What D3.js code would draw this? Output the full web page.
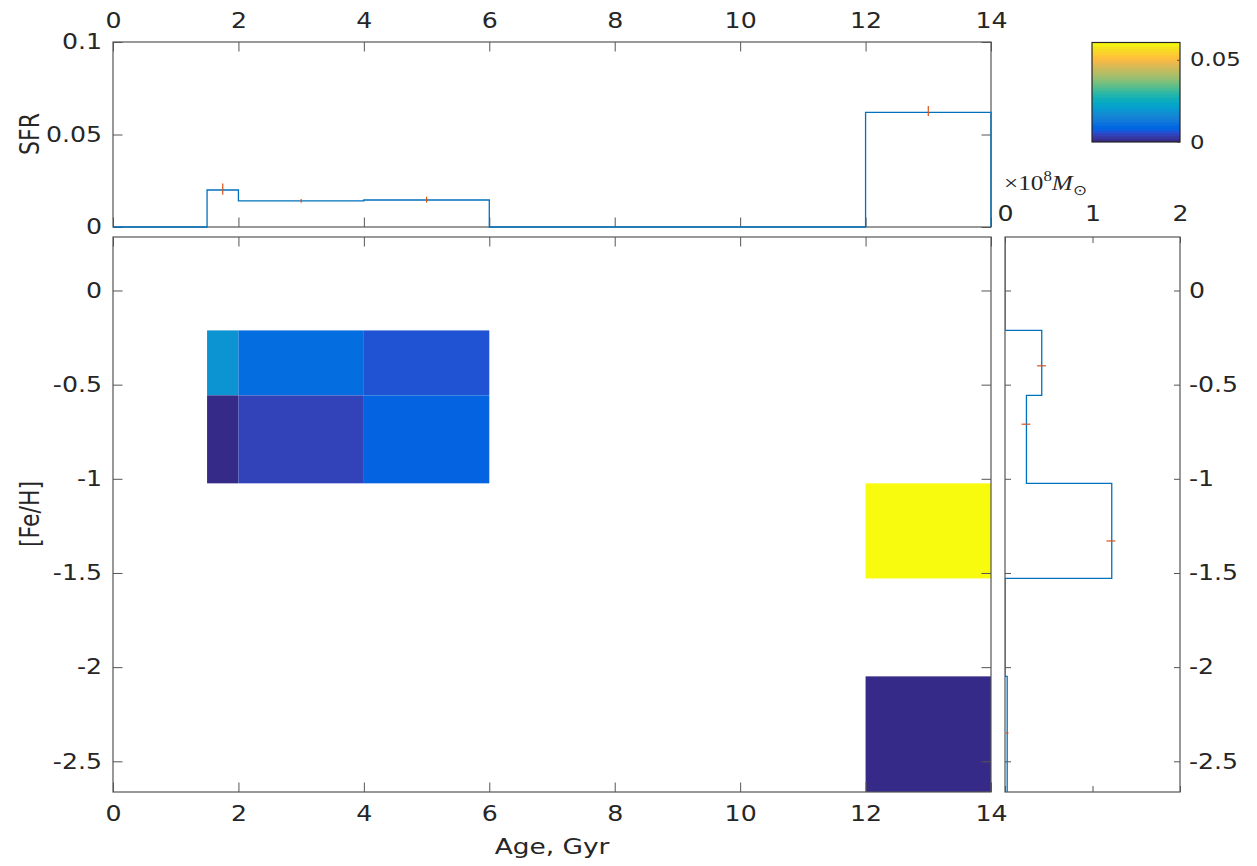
<!DOCTYPE html>
<html><head><meta charset="utf-8">
<script src="https://cdn.jsdelivr.net/npm/d3@7"></script>
<style>body{margin:0;background:#fff} svg{display:block}</style>
</head><body><svg id="c" width="1257" height="866"></svg>
<script>
// ---------------- data ----------------
const ageTicks = [0, 2, 4, 6, 8, 10, 12, 14];
const sfrTicks = [0, 0.05, 0.1];
const sfrTickLabels = ["0", "0.05", "0.1"];
const fehTicks = [0, -0.5, -1, -1.5, -2, -2.5];
const fehTickLabels = ["0", "-0.5", "-1", "-1.5", "-2", "-2.5"];
const massTicks = [0, 1, 2];
const cbarTicks = [0, 0.05];
const cbarTickLabels = ["0", "0.05"];

const sfrEdges = [0, 1.5, 2, 4, 6, 12, 14];
const sfrValues = [0, 0.0200, 0.0141, 0.0146, 0, 0.0620];
const sfrErrAge = [1.75, 3, 5, 13];
const sfrErrVal = [0.0205, 0.0141, 0.0148, 0.0627];
const sfrErr = [0.0030, 0.0010, 0.0016, 0.0027];

const fehEdges = [0.284, -0.212, -0.557, -1.024, -1.529, -2.049, -2.663];
const massValues = [0, 0.42, 0.245, 1.22, 0, 0.025];
const massErrFeh = [-0.40, -0.71, -1.33, -2.35];
const massErrVal = [0.417, 0.239, 1.21, 0.025];
const massErr = [0.05, 0.05, 0.05, 0.015];

const cellAgeLo = [1.5, 2, 4, 1.5, 2, 4, 12, 12];
const cellAgeHi = [2, 4, 6, 2, 4, 6, 14, 14];
const cellFehHi = [-0.212, -0.212, -0.212, -0.557, -0.557, -0.557, -1.024, -2.049];
const cellFehLo = [-0.557, -0.557, -0.557, -1.024, -1.024, -1.024, -1.529, -2.663];
const cellValue = [0.0183, 0.0096, 0.0058, 0.0003, 0.0038, 0.0077, 0.0605, 0.0001];
const cMax = 0.0605;

const parula = [[0.2081,0.1663,0.5292],[0.2116,0.1898,0.5777],[0.2123,0.2138,0.6270],[0.2081,0.2386,0.6771],[0.1959,0.2645,0.7279],[0.1707,0.2919,0.7792],[0.1253,0.3242,0.8303],[0.0591,0.3598,0.8683],[0.0117,0.3875,0.8820],[0.0060,0.4086,0.8828],[0.0165,0.4266,0.8786],[0.0329,0.4430,0.8720],[0.0498,0.4586,0.8641],[0.0629,0.4737,0.8554],[0.0723,0.4887,0.8467],[0.0779,0.5040,0.8384],[0.0793,0.5200,0.8312],[0.0749,0.5375,0.8263],[0.0641,0.5570,0.8240],[0.0488,0.5772,0.8228],[0.0343,0.5966,0.8199],[0.0265,0.6137,0.8135],[0.0239,0.6287,0.8038],[0.0231,0.6418,0.7913],[0.0228,0.6535,0.7768],[0.0267,0.6642,0.7607],[0.0384,0.6743,0.7436],[0.0590,0.6838,0.7254],[0.0843,0.6928,0.7062],[0.1133,0.7015,0.6859],[0.1453,0.7098,0.6646],[0.1801,0.7177,0.6424],[0.2178,0.7250,0.6193],[0.2586,0.7317,0.5954],[0.3022,0.7376,0.5712],[0.3482,0.7424,0.5473],[0.3953,0.7459,0.5244],[0.4420,0.7481,0.5033],[0.4871,0.7491,0.4840],[0.5300,0.7491,0.4661],[0.5709,0.7485,0.4494],[0.6099,0.7473,0.4337],[0.6473,0.7456,0.4188],[0.6834,0.7435,0.4044],[0.7184,0.7411,0.3905],[0.7525,0.7384,0.3768],[0.7858,0.7356,0.3633],[0.8185,0.7327,0.3498],[0.8507,0.7299,0.3360],[0.8824,0.7274,0.3217],[0.9139,0.7258,0.3063],[0.9450,0.7261,0.2886],[0.9739,0.7314,0.2666],[0.9938,0.7455,0.2403],[0.9990,0.7653,0.2164],[0.9955,0.7861,0.1967],[0.9880,0.8066,0.1794],[0.9789,0.8271,0.1633],[0.9697,0.8481,0.1475],[0.9626,0.8705,0.1309],[0.9589,0.8949,0.1132],[0.9598,0.9218,0.0948],[0.9661,0.9514,0.0755],[0.9763,0.9831,0.0538]];

// ---------------- setup ----------------
const SX = 1.2;               // horizontal text stretch seen in reference
const FONT = "DejaVu Sans";
const TXT = "#262626";
const AX = "#555555";
const BLUE = "#0072BD", RED = "#D95319";
const svg = d3.select("#c");
const pcol = p => d3.rgb(p[0]*255, p[1]*255, p[2]*255).formatHex();
const colorOf = v => {
  let i = Math.floor(v / cMax * parula.length);
  i = Math.max(0, Math.min(parula.length - 1, i));
  return pcol(parula[i]);
};

const xAge = d3.scaleLinear([0, 14], [113, 991]);
const ySFR = d3.scaleLinear([0, 0.1], [227, 42]);
const yFeH = d3.scaleLinear([-2.663, 0.284], [792, 237]);
const xMass = d3.scaleLinear([0, 2], [1005, 1180]);
const yC = d3.scaleLinear([0, cMax], [142, 42.5]);

function stretch(sel) {
  sel.attr("transform", function () {
    const x = +this.getAttribute("x") || 0;
    return `translate(${x},0) scale(${SX},1) translate(${-x},0)`;
  });
}
function styleAxis(g, fs) {
  g.select(".domain").remove();
  g.selectAll(".tick line").attr("stroke", AX).attr("stroke-width", 1);
  g.selectAll(".tick text").attr("fill", TXT).attr("font-family", FONT).attr("font-size", fs).call(stretch);
}

// defs & clips
const defs = svg.append("defs");
defs.append("clipPath").attr("id", "clipMain").append("rect").attr("x", 113).attr("y", 237).attr("width", 878).attr("height", 555);
defs.append("clipPath").attr("id", "clipRight").append("rect").attr("x", 1005).attr("y", 237).attr("width", 175).attr("height", 555);

// ---------------- main panel (heatmap) ----------------
const cells = d3.range(cellValue.length);
svg.append("g").attr("clip-path", "url(#clipMain)").selectAll("rect").data(cells).join("rect")
  .attr("x", i => xAge(cellAgeLo[i]))
  .attr("y", i => yFeH(cellFehHi[i]))
  .attr("width", i => xAge(cellAgeHi[i]) - xAge(cellAgeLo[i]))
  .attr("height", i => yFeH(cellFehLo[i]) - yFeH(cellFehHi[i]))
  .attr("fill", i => colorOf(cellValue[i]));

const TS = 21;
// main axes
svg.append("g").attr("transform", "translate(0,792)")
  .call(d3.axisBottom(xAge).tickValues(ageTicks).tickFormat(d3.format("d")).tickSizeInner(-9.5).tickSizeOuter(0).tickPadding(14))
  .call(g => styleAxis(g, TS));
svg.append("g").attr("transform", "translate(0,237)")
  .call(d3.axisTop(xAge).tickValues(ageTicks).tickFormat("").tickSizeInner(-9.5).tickSizeOuter(0))
  .call(g => styleAxis(g, TS));
svg.append("g").attr("transform", "translate(113,0)")
  .call(d3.axisLeft(yFeH).tickValues(fehTicks).tickFormat((d, i) => fehTickLabels[i]).tickSizeInner(-9.5).tickSizeOuter(0).tickPadding(11))
  .call(g => styleAxis(g, TS));
svg.append("g").attr("transform", "translate(991,0)")
  .call(d3.axisRight(yFeH).tickValues(fehTicks).tickFormat("").tickSizeInner(-9.5).tickSizeOuter(0))
  .call(g => styleAxis(g, TS));
svg.append("rect").attr("x", 113).attr("y", 237).attr("width", 878).attr("height", 555)
  .attr("fill", "none").attr("stroke", AX).attr("stroke-width", 1.2);

// ---------------- top panel (SFR) ----------------
const sfrPts = [];
sfrValues.forEach((v, i) => { sfrPts.push([sfrEdges[i], v]); sfrPts.push([sfrEdges[i + 1], v]); });
sfrPts.push([sfrEdges[sfrEdges.length - 1], 0]);
svg.append("g").attr("transform", "translate(0,42)")
  .call(d3.axisTop(xAge).tickValues(ageTicks).tickFormat(d3.format("d")).tickSizeInner(-9.5).tickSizeOuter(0).tickPadding(14))
  .call(g => styleAxis(g, TS));
svg.append("g").attr("transform", "translate(0,227)")
  .call(d3.axisBottom(xAge).tickValues(ageTicks).tickFormat("").tickSizeInner(-9.5).tickSizeOuter(0))
  .call(g => styleAxis(g, TS));
svg.append("g").attr("transform", "translate(113,0)")
  .call(d3.axisLeft(ySFR).tickValues(sfrTicks).tickFormat((d, i) => sfrTickLabels[i]).tickSizeInner(-9.5).tickSizeOuter(0).tickPadding(11))
  .call(g => styleAxis(g, TS));
svg.append("g").attr("transform", "translate(991,0)")
  .call(d3.axisRight(ySFR).tickValues(sfrTicks).tickFormat("").tickSizeInner(-9.5).tickSizeOuter(0))
  .call(g => styleAxis(g, TS));
svg.append("rect").attr("x", 113).attr("y", 42).attr("width", 878).attr("height", 185)
  .attr("fill", "none").attr("stroke", AX).attr("stroke-width", 1.2);
svg.append("path").datum(sfrPts)
  .attr("d", d3.line().x(d => xAge(d[0])).y(d => ySFR(d[1])))
  .attr("fill", "none").attr("stroke", BLUE).attr("stroke-width", 1.3);
svg.append("g").selectAll("line").data(sfrErrAge).join("line")
  .attr("x1", (d) => xAge(d)).attr("x2", d => xAge(d))
  .attr("y1", (d, i) => ySFR(sfrErrVal[i] - sfrErr[i]))
  .attr("y2", (d, i) => ySFR(sfrErrVal[i] + sfrErr[i]))
  .attr("stroke", RED).attr("stroke-width", 1.2);

// ---------------- right panel (mass vs [Fe/H]) ----------------
svg.append("g").attr("transform", "translate(0,237)")
  .call(d3.axisTop(xMass).tickValues(massTicks).tickFormat(d3.format("d")).tickSizeInner(-6).tickSizeOuter(0).tickPadding(16))
  .call(g => styleAxis(g, TS));
svg.append("g").attr("transform", "translate(0,792)")
  .call(d3.axisBottom(xMass).tickValues(massTicks).tickFormat("").tickSizeInner(-6).tickSizeOuter(0))
  .call(g => styleAxis(g, TS));
svg.append("g").attr("transform", "translate(1180,0)")
  .call(d3.axisRight(yFeH).tickValues(fehTicks).tickFormat((d, i) => fehTickLabels[i]).tickSizeInner(-6).tickSizeOuter(0).tickPadding(9))
  .call(g => styleAxis(g, TS));
svg.append("g").attr("transform", "translate(1005,0)")
  .call(d3.axisLeft(yFeH).tickValues(fehTicks).tickFormat("").tickSizeInner(-6).tickSizeOuter(0))
  .call(g => styleAxis(g, TS));
svg.append("rect").attr("x", 1005).attr("y", 237).attr("width", 175).attr("height", 555)
  .attr("fill", "none").attr("stroke", AX).attr("stroke-width", 1.2);
const massPts = [];
massValues.forEach((v, i) => { massPts.push([v, fehEdges[i]]); massPts.push([v, fehEdges[i + 1]]); });
svg.append("path").datum(massPts).attr("clip-path", "url(#clipRight)")
  .attr("d", d3.line().x(d => xMass(d[0])).y(d => yFeH(d[1])))
  .attr("fill", "none").attr("stroke", BLUE).attr("stroke-width", 1.3);
svg.append("g").selectAll("line").data(massErrFeh).join("line")
  .attr("y1", d => yFeH(d)).attr("y2", d => yFeH(d))
  .attr("x1", (d, i) => xMass(massErrVal[i] - massErr[i]))
  .attr("x2", (d, i) => xMass(massErrVal[i] + massErr[i]))
  .attr("stroke", RED).attr("stroke-width", 1.2);

// unit label
const ut = svg.append("text").attr("x", 1004).attr("y", 190)
  .attr("font-family", "Liberation Serif").attr("font-size", 21).attr("fill", TXT);
ut.append("tspan").text("\u00d710");
ut.append("tspan").attr("dy", -9).attr("font-size", 14).text("8");
ut.append("tspan").attr("dy", 9).attr("font-style", "italic").text("M");
ut.append("tspan").attr("dy", 5).attr("font-size", 14).text("\u2299");
ut.call(stretch);

// ---------------- colorbar ----------------
const grad = defs.append("linearGradient").attr("id", "cbar").attr("x1", 0).attr("y1", 1).attr("x2", 0).attr("y2", 0);
parula.forEach((p, i) => {
  grad.append("stop").attr("offset", i / parula.length).attr("stop-color", pcol(p));
  grad.append("stop").attr("offset", (i + 1) / parula.length).attr("stop-color", pcol(p));
});
svg.append("rect").attr("x", 1092).attr("y", 42.5).attr("width", 88).attr("height", 99.5)
  .attr("fill", "url(#cbar)").attr("stroke", "#262626").attr("stroke-width", 1.2);
svg.append("g").attr("transform", "translate(1180,0)")
  .call(d3.axisRight(yC).tickValues(cbarTicks).tickFormat((d, i) => cbarTickLabels[i]).tickSizeInner(-3).tickSizeOuter(0).tickPadding(10))
  .call(g => styleAxis(g, 19));

// ---------------- axis titles ----------------
svg.append("text").attr("transform", `translate(552,846) scale(${SX},1)`)
  .attr("text-anchor", "middle").attr("dy", "0.35em")
  .attr("font-family", FONT).attr("font-size", 22).attr("fill", TXT).text("Age, Gyr");
svg.append("text").attr("transform", `translate(30,134) scale(${SX},1) rotate(-90)`)
  .attr("text-anchor", "middle").attr("dy", "0.35em")
  .attr("font-family", FONT).attr("font-size", 22).attr("fill", TXT).text("SFR");
svg.append("text").attr("transform", `translate(30,514) scale(${SX},1) rotate(-90)`)
  .attr("text-anchor", "middle").attr("dy", "0.35em")
  .attr("font-family", FONT).attr("font-size", 22).attr("fill", TXT).text("[Fe/H]");
</script></body></html>
